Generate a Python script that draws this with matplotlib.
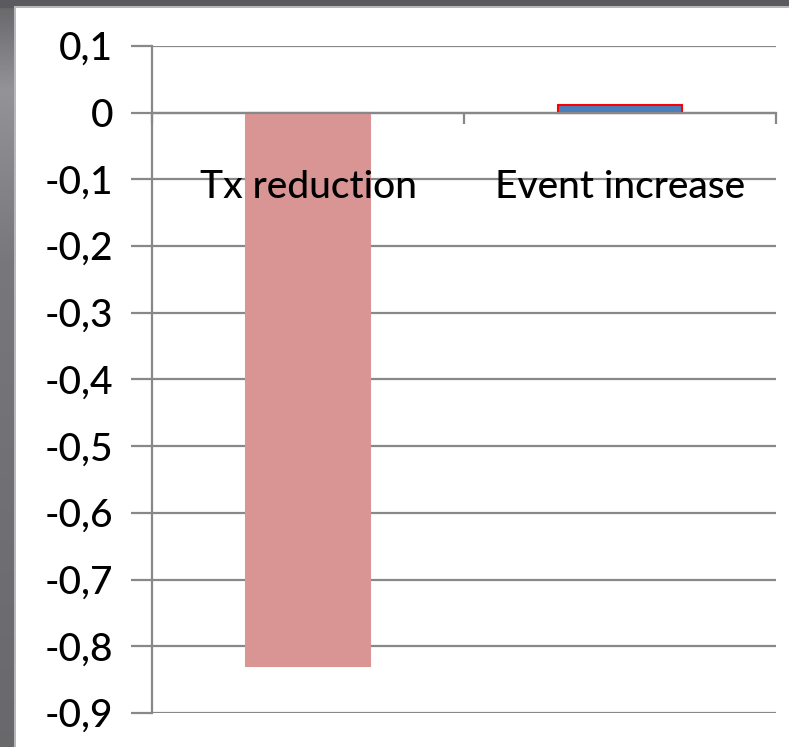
import numpy as np
import matplotlib.pyplot as plt
from matplotlib.patches import Rectangle

categories = ["Tx reduction", "Event increase"]
values = [-0.83, 0.012]
bar_colors = ["#d99594", "#4a7ebb"]
edge_colors = ["#d99594", "#ff0000"]
yticks = [0.1, 0.0, -0.1, -0.2, -0.3, -0.4, -0.5, -0.6, -0.7, -0.8, -0.9]
ytick_labels = ["0,1", "0", "-0,1", "-0,2", "-0,3", "-0,4", "-0,5", "-0,6", "-0,7", "-0,8", "-0,9"]

W, H = 789, 747
fig = plt.figure(figsize=(W / 100, H / 100), dpi=100)
fig.patch.set_facecolor("#5d5c61")

# slide-style backdrop: shaded left strip, white panel
bg = fig.add_axes([0, 0, 1, 1], zorder=-10)
bg.set_xlim(0, W)
bg.set_ylim(H, 0)
bg.axis("off")
grad = np.linspace(0, 1, 256).reshape(-1, 1)
shade = np.interp(grad, [0, 0.12, 0.35, 1], [0.40, 0.58, 0.47, 0.41])
bg.imshow(np.dstack([shade, shade * 0.995, shade * 1.02]).clip(0, 1),
          extent=[0, 16, H, 0], aspect="auto", zorder=0)
bg.add_patch(Rectangle((0, 0), W, 7, color="#5b5a5f", zorder=1))
bg.add_patch(Rectangle((14, 6), W, H, facecolor="#b8b8bc", edgecolor="none", zorder=2))
bg.add_patch(Rectangle((16, 8), W, H, facecolor="white", edgecolor="none", zorder=3))

font = "Lato"
ax = fig.add_axes([152 / W, 34 / H, (776 - 152) / W, (701 - 34) / H])
ax.set_facecolor("none")
ax.set_axisbelow(True)

x = np.arange(len(categories))
ax.bar(x, values, width=0.4, color=bar_colors, edgecolor=edge_colors,
       linewidth=1.5, zorder=2)

ax.set_xlim(-0.5, 1.5)
ax.set_ylim(-0.9, 0.1)
ax.set_yticks(yticks)
ax.set_yticklabels(ytick_labels, fontsize=28, fontfamily=font, fontweight="medium")
ax.yaxis.grid(True, color="#888888", linewidth=1.6)
ax.tick_params(axis="y", length=15, width=1.6, color="#888888", pad=13)

ax.spines["top"].set_visible(False)
ax.spines["right"].set_visible(False)
ax.spines["left"].set_color("#888888")
ax.spines["left"].set_linewidth(1.6)
ax.spines["bottom"].set_position(("data", 0))
ax.spines["bottom"].set_color("#888888")
ax.spines["bottom"].set_linewidth(1.6)
ax.spines["bottom"].set_zorder(3)

ax.set_xticks([-0.5, 0.5, 1.5])
ax.set_xticklabels([])
ax.tick_params(axis="x", direction="out", length=8, width=1.6, color="#888888")

for xi, name in zip(x, categories):
    ax.text(xi, -0.1275, name, ha="center", va="baseline", fontsize=28,
            fontfamily=font, fontweight="medium", color="black", zorder=5)

fig.savefig("out.png", dpi=100)
